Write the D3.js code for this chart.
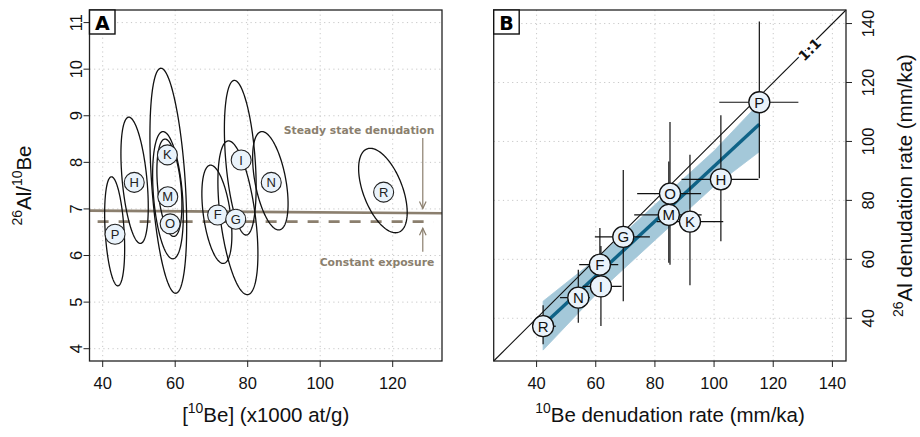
<!DOCTYPE html>
<html>
<head>
<meta charset="UTF-8" />
<title>Al/Be</title>
<script src="https://d3js.org/d3.v7.min.js"></script>
<style>
  body { margin: 0; background: #fff; }
  svg { display: block; font-family: "Liberation Sans", Arial, sans-serif; }
  .grid { stroke: #c8c8c8; stroke-width: 1; stroke-dasharray: 1.2,3.4; }
  .frame { fill: none; stroke: #222; stroke-width: 1.3; }
  .tick { stroke: #222; stroke-width: 1; }
  .ticklab { font-size: 16.5px; fill: #111; }
  .title { font-size: 20.5px; fill: #111; }
  .note { font-family: "DejaVu Sans", sans-serif; font-weight: bold; font-size: 10.8px; fill: #8b7f6e; }
</style>
</head>
<body>
<script>
// ---- panel A : 26Al/10Be ratio vs 10Be concentration ----
var ellLabel = ["P", "H", "K", "M", "O", "F", "G", "I", "N", "R"];
var ellBe = [43.3, 48.8, 58.1, 58.0, 58.4, 71.5, 77.3, 77.95, 86.25, 117.3];
var ellBeHalf = [2.76, 3.77, 5.07, 4.23, 3.45, 4.14, 5.52, 4.38, 4.89, 6.7];
var ellRatio = [6.52, 7.615, 7.605, 7.295, 7.455, 6.885, 6.81, 8.10, 7.605, 7.395];
var ellRatioHalf = [1.17, 1.355, 2.415, 1.365, 1.045, 1.055, 1.65, 1.66, 1.055, 0.906];
var ellRho = [-0.32, -0.42, -0.4, -0.32, -0.35, -0.42, -0.47, -0.37, -0.47, -0.52];
var labBe = [43.4, 48.7, 57.85, 57.95, 58.6, 71.7, 76.7, 78.2, 86.5, 117.5];
var labRatio = [6.456, 7.57, 8.16, 7.26, 6.68, 6.87, 6.78, 8.05, 7.57, 7.36];

var steadyX = [36.36, 133.6], steadyY = [6.963, 6.907];
var constX = [38.6, 131.3], constY = [6.727, 6.727];

var aTicksX = [40, 60, 80, 100, 120];
var aTicksY = [4, 5, 6, 7, 8, 9, 10, 11];

// ---- panel B : denudation rates ----
var rateLabel = ["R", "N", "I", "F", "G", "M", "O", "K", "H", "P"];
var beRate = [42.2, 54.1, 61.75, 61.4, 69.3, 84.7, 85.1, 91.85, 102.3, 115.3];
var beRateLo = [39.1, 47.9, 55.6, 54.4, 59.7, 73.0, 74.0, 80.6, 89.0, 101.75];
var beRateHi = [46.5, 58.0, 68.75, 67.6, 78.3, 95.8, 95.6, 103.1, 115.0, 128.5];
var alRate = [37.3, 47.0, 50.8, 58.2, 67.6, 75.1, 82.3, 72.8, 87.15, 113.3];
var alRateLo = [31.2, 38.5, 37.4, 47.5, 45.8, 58.8, 58.2, 51.2, 66.1, 87.5];
var alRateHi = [44.4, 56.5, 64.5, 70.6, 90.3, 93.2, 106.6, 95.5, 108.9, 140.7];

var regX = [42.2, 115.3], regY = [37.7, 105.8];
var bandX = [42.2, 60, 80, 100, 115.3];
var bandLo = [29.2, 48.0, 66.5, 84.8, 96.5];
var bandHi = [45.8, 60.0, 78.5, 96.8, 113.0];

var bTicks = [40, 60, 80, 100, 120, 140];

var svg = d3.select("body").append("svg").attr("width", 920).attr("height", 437);

var brown = "#8b7f6e";

function supText(t, parts, size) {
  parts.forEach(function(p) {
    var ts = t.append("tspan").text(p[0]);
    if (p[1]) ts.attr("font-size", size * 0.68).attr("dy", -size * 0.42);
    else if (p[2]) ts.attr("dy", size * 0.42);
  });
}

function arrowHead(g, x, y, dir) {
  // open arrowhead, dir = 1 pointing down, -1 pointing up
  g.append("path")
    .attr("d", "M" + (x - 3.3) + "," + (y - dir * 7) + "L" + x + "," + y + "L" + (x + 3.3) + "," + (y - dir * 7))
    .attr("fill", "none").attr("stroke", brown).attr("stroke-width", 1.2);
}

function panelTag(x, y, s) {
  svg.append("rect").attr("x", x).attr("y", y).attr("width", 25.5).attr("height", 24)
    .attr("fill", "#fff").attr("stroke", "#111").attr("stroke-width", 1.4);
  svg.append("text").attr("x", x + 12.75).attr("y", y + 19.5).attr("text-anchor", "middle")
    .attr("font-family", "DejaVu Sans, sans-serif").attr("font-weight", "bold").attr("font-size", 19)
    .text(s);
}

// ===================== Panel A =====================
var xA = d3.scaleLinear().domain([36.36, 133.6]).range([89.5, 442]);
var yA = d3.scaleLinear().domain([3.736, 11.27]).range([361, 10]);
var gA = svg.append("g");

gA.selectAll(".gx").data(aTicksX).enter().append("line").attr("class", "grid")
  .attr("x1", xA).attr("x2", xA).attr("y1", 10).attr("y2", 361);
gA.selectAll(".gy").data(aTicksY).enter().append("line").attr("class", "grid")
  .attr("y1", yA).attr("y2", yA).attr("x1", 89.5).attr("x2", 442);

// reference lines
gA.append("line").attr("x1", xA(steadyX[0])).attr("x2", xA(steadyX[1]))
  .attr("y1", yA(steadyY[0])).attr("y2", yA(steadyY[1]))
  .attr("stroke", brown).attr("stroke-width", 2.6);
gA.append("line").attr("x1", xA(constX[0])).attr("x2", xA(constX[1]))
  .attr("y1", yA(constY[0])).attr("y2", yA(constY[1]))
  .attr("stroke", brown).attr("stroke-width", 2.6).attr("stroke-dasharray", "11,10");

// error ellipses
var ellLine = d3.line().curve(d3.curveLinearClosed);
ellLabel.forEach(function(lab, i) {
  var pts = d3.range(0, 2 * Math.PI, Math.PI / 90).map(function(t) {
    var dx = ellBeHalf[i] * Math.cos(t);
    var dy = ellRatioHalf[i] * (ellRho[i] * Math.cos(t) + Math.sqrt(1 - ellRho[i] * ellRho[i]) * Math.sin(t));
    return [xA(ellBe[i] + dx), yA(ellRatio[i] + dy)];
  });
  gA.append("path").attr("d", ellLine(pts)).attr("fill", "none").attr("stroke", "#111").attr("stroke-width", 1.3);
});

// labels
var labA = gA.selectAll(".labA").data(ellLabel).enter().append("g")
  .attr("transform", function(d, i) { return "translate(" + xA(labBe[i]) + "," + yA(labRatio[i]) + ")"; });
labA.append("circle").attr("r", 10).attr("fill", "#eaf3fb").attr("stroke", "#222").attr("stroke-width", 1.1);
labA.append("text").attr("text-anchor", "middle").attr("y", 4.5).attr("font-size", 13).attr("fill", "#222").text(function(d) { return d; });

// annotations
gA.append("text").attr("class", "note").attr("x", xA(131.5)).attr("y", yA(8.70) + 4).attr("text-anchor", "end").text("Steady state denudation");
gA.append("text").attr("class", "note").attr("x", xA(131.5)).attr("y", yA(5.855) + 4).attr("text-anchor", "end").text("Constant exposure");
gA.append("line").attr("x1", xA(128.3)).attr("x2", xA(128.3)).attr("y1", yA(8.52)).attr("y2", yA(7.01)).attr("stroke", brown).attr("stroke-width", 1.2);
arrowHead(gA, xA(128.3), yA(7.01), 1);
gA.append("line").attr("x1", xA(128.3)).attr("x2", xA(128.3)).attr("y1", yA(6.08)).attr("y2", yA(6.585)).attr("stroke", brown).attr("stroke-width", 1.2);
arrowHead(gA, xA(128.3), yA(6.585), -1);

// axes
gA.append("rect").attr("class", "frame").attr("x", 89.5).attr("y", 10).attr("width", 352.5).attr("height", 351);
gA.selectAll(".tx").data(aTicksX).enter().append("line").attr("class", "tick")
  .attr("x1", xA).attr("x2", xA).attr("y1", 361).attr("y2", 367);
gA.selectAll(".tlx").data(aTicksX).enter().append("text").attr("class", "ticklab")
  .attr("x", xA).attr("y", 389).attr("text-anchor", "middle").text(function(d) { return d; });
gA.selectAll(".ty").data(aTicksY).enter().append("line").attr("class", "tick")
  .attr("y1", yA).attr("y2", yA).attr("x1", 89.5).attr("x2", 83.5);
gA.selectAll(".tly").data(aTicksY).enter().append("text").attr("class", "ticklab")
  .attr("transform", function(d) { return "translate(82," + yA(d) + ") rotate(-90)"; })
  .attr("text-anchor", "middle").text(function(d) { return d; });

var tAx = gA.append("text").attr("class", "title").attr("x", 265.7).attr("y", 422).attr("text-anchor", "middle");
supText(tAx, [["["], ["10", true], ["Be] (x1000 at/g)", false, true]], 20.5);
var tAy = gA.append("text").attr("class", "title").attr("transform", "translate(31,185.5) rotate(-90)").attr("text-anchor", "middle");
supText(tAy, [["26", true], ["Al/", false, true], ["10", true], ["Be", false, true]], 20.5);

panelTag(89.5, 10, "A");

// ===================== Panel B =====================
var xB = d3.scaleLinear().domain([25.5, 144.6]).range([493.7, 846]);
var yB = d3.scaleLinear().domain([25.5, 144.6]).range([361, 10]);
var gB = svg.append("g");

gB.selectAll(".gx").data(bTicks).enter().append("line").attr("class", "grid")
  .attr("x1", xB).attr("x2", xB).attr("y1", 10).attr("y2", 361);
gB.selectAll(".gy").data(bTicks).enter().append("line").attr("class", "grid")
  .attr("y1", yB).attr("y2", yB).attr("x1", 493.7).attr("x2", 846);

// confidence band and regression
var area = d3.area().x(function(d, i) { return xB(bandX[i]); })
  .y0(function(d, i) { return yB(bandLo[i]); }).y1(function(d, i) { return yB(bandHi[i]); });
gB.append("path").attr("d", area(bandX)).attr("fill", "#a4c8d9").attr("stroke", "#a4c8d9").attr("stroke-width", 0.8);

// 1:1 line
gB.append("line").attr("x1", xB(25.5)).attr("y1", yB(25.5)).attr("x2", xB(144.6)).attr("y2", yB(144.6))
  .attr("stroke", "#111").attr("stroke-width", 1.1);

gB.append("line").attr("x1", xB(regX[0])).attr("y1", yB(regY[0])).attr("x2", xB(regX[1])).attr("y2", yB(regY[1]))
  .attr("stroke", "#0f6387").attr("stroke-width", 3.4);

// error bars
rateLabel.forEach(function(lab, i) {
  gB.append("line").attr("x1", xB(beRateLo[i])).attr("x2", xB(beRateHi[i]))
    .attr("y1", yB(alRate[i])).attr("y2", yB(alRate[i])).attr("stroke", "#111").attr("stroke-width", 1.2);
  gB.append("line").attr("x1", xB(beRate[i])).attr("x2", xB(beRate[i]))
    .attr("y1", yB(alRateLo[i])).attr("y2", yB(alRateHi[i])).attr("stroke", "#111").attr("stroke-width", 1.2);
});

var labB = gB.selectAll(".labB").data(rateLabel).enter().append("g")
  .attr("transform", function(d, i) { return "translate(" + xB(beRate[i]) + "," + yB(alRate[i]) + ")"; });
labB.append("circle").attr("r", 10.5).attr("fill", "#eaf3fb").attr("stroke", "#111").attr("stroke-width", 1.3);
labB.append("text").attr("text-anchor", "middle").attr("y", 5.3).attr("font-size", 15).attr("fill", "#111").text(function(d) { return d; });

// 1:1 label
gB.append("text").attr("transform", "translate(" + xB(132.3) + "," + yB(131.2) + ") rotate(-45)")
  .attr("text-anchor", "middle").attr("y", 5).attr("font-family", "DejaVu Sans, sans-serif").attr("font-weight", "bold")
  .attr("font-size", 14).attr("fill", "#111").attr("stroke", "#fff").attr("stroke-width", 4)
  .attr("paint-order", "stroke").text("1:1");

// axes
gB.append("rect").attr("class", "frame").attr("x", 493.7).attr("y", 10).attr("width", 352.3).attr("height", 351);
gB.selectAll(".tx").data(bTicks).enter().append("line").attr("class", "tick")
  .attr("x1", xB).attr("x2", xB).attr("y1", 361).attr("y2", 367);
gB.selectAll(".tlx").data(bTicks).enter().append("text").attr("class", "ticklab")
  .attr("x", xB).attr("y", 389).attr("text-anchor", "middle").text(function(d) { return d; });
gB.selectAll(".ty").data(bTicks).enter().append("line").attr("class", "tick")
  .attr("y1", yB).attr("y2", yB).attr("x1", 846).attr("x2", 852);
gB.selectAll(".tly").data(bTicks).enter().append("text").attr("class", "ticklab")
  .attr("transform", function(d) { return "translate(874," + yB(d) + ") rotate(-90)"; })
  .attr("text-anchor", "middle").text(function(d) { return d; });

var tBx = gB.append("text").attr("class", "title").attr("x", 670).attr("y", 422).attr("text-anchor", "middle");
supText(tBx, [["10", true], ["Be denudation rate (mm/ka)", false, true]], 20.5);
var tBy = gB.append("text").attr("class", "title").attr("transform", "translate(912,185.5) rotate(-90)").attr("text-anchor", "middle");
supText(tBy, [["26", true], ["Al denudation rate (mm/ka)", false, true]], 20.5);

panelTag(493.7, 10, "B");
</script>
</body>
</html>
